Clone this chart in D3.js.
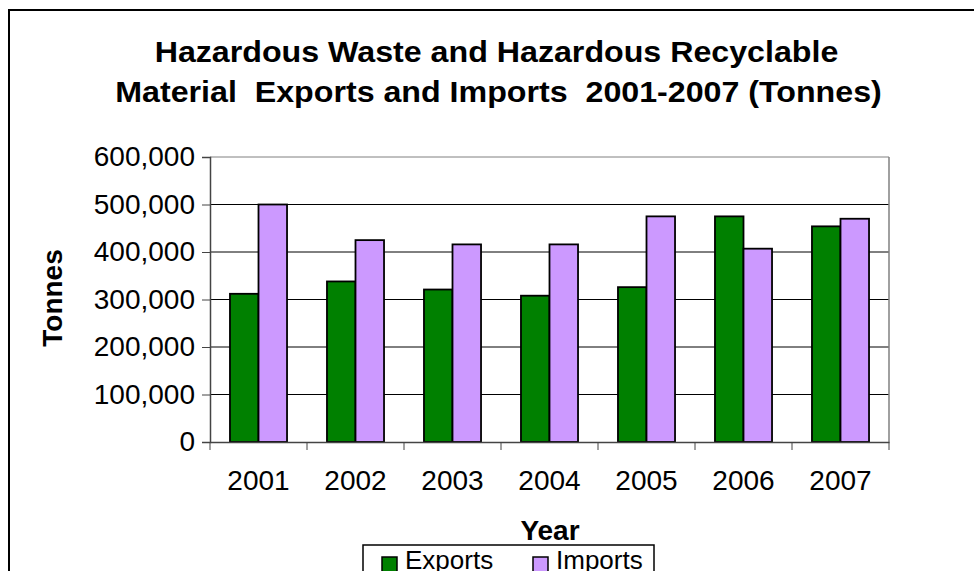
<!DOCTYPE html>
<html>
<head>
<meta charset="utf-8">
<script src="https://cdn.jsdelivr.net/npm/d3@7"></script>
<style>
  body { margin: 0; background: #fff; }
  text { font-family: "Liberation Sans", Arial, sans-serif; }
</style>
</head>
<body>
<div id="chart"></div>
<script>
// chart data
var years = ["2001", "2002", "2003", "2004", "2005", "2006", "2007"];
var seriesNames = ["Exports", "Imports"];
var exportsData = [312000, 338000, 321000, 308000, 326000, 475000, 454000];
var importsData = [500000, 425000, 416000, 416000, 475000, 407000, 470000];
var yTicks = [0, 100000, 200000, 300000, 400000, 500000, 600000];
var titleLines = ["Hazardous Waste and Hazardous Recyclable",
                  "Material  Exports and Imports  2001-2007 (Tonnes)"];
var colors = ["#008000", "#CC99FF"];

var width = 974, height = 571;
var plot = {left: 210, top: 157, right: 889, bottom: 442};

var svg = d3.select("#chart").append("svg")
    .attr("width", width)
    .attr("height", height);

// outer frame
svg.append("rect")
    .attr("x", 9).attr("y", 10)
    .attr("width", 980).attr("height", 600)
    .attr("fill", "#fff")
    .attr("stroke", "#000")
    .attr("stroke-width", 2);

var x0 = d3.scaleBand()
    .domain(years)
    .range([plot.left, plot.right])
    .padding(0);

var x1 = d3.scaleBand()
    .domain(seriesNames)
    .range([0, x0.bandwidth()])
    .paddingInner(0)
    .paddingOuter(0.7);

var y = d3.scaleLinear()
    .domain([0, 600000])
    .range([plot.bottom, plot.top]);

// gridlines
svg.selectAll("line.grid")
    .data(yTicks.filter(function(d){ return d > 0; }))
    .enter()
    .append("line")
    .attr("class", "grid")
    .attr("x1", plot.left)
    .attr("x2", plot.right)
    .attr("y1", function(d){ return y(d); })
    .attr("y2", function(d){ return y(d); })
    .attr("stroke", function(d){ return d === 600000 ? "#808080" : "#000"; })
    .attr("stroke-width", 1);

// right border of plot area
svg.append("line")
    .attr("x1", plot.right).attr("x2", plot.right)
    .attr("y1", plot.top).attr("y2", plot.bottom)
    .attr("stroke", "#808080")
    .attr("stroke-width", 1.5);

// bars
var rows = years.map(function(yr, i){
    return {year: yr, values: [
        {name: "Exports", value: exportsData[i]},
        {name: "Imports", value: importsData[i]}
    ]};
});

var groups = svg.selectAll("g.year")
    .data(rows)
    .enter()
    .append("g")
    .attr("class", "year")
    .attr("transform", function(d){ return "translate(" + x0(d.year) + ",0)"; });

groups.selectAll("rect")
    .data(function(d){ return d.values; })
    .enter()
    .append("rect")
    .attr("x", function(d){ return x1(d.name); })
    .attr("y", function(d){ return y(d.value); })
    .attr("width", x1.bandwidth())
    .attr("height", function(d){ return y(0) - y(d.value); })
    .style("fill", function(d, i){ return colors[i]; })
    .attr("stroke", "#000")
    .attr("stroke-width", 1.8);

// y axis
var yAxis = svg.append("g")
    .attr("transform", "translate(" + plot.left + ",0)")
    .call(d3.axisLeft(y).tickValues(yTicks).tickSize(8).tickPadding(7)
        .tickFormat(d3.format(",")));
yAxis.selectAll("text")
    .attr("font-size", "28px")
    .attr("fill", "#000")
    .style("font-family", "'Liberation Sans', Arial, sans-serif");
yAxis.selectAll("line").attr("stroke", "#444");
yAxis.select(".domain").attr("stroke", "#444").attr("stroke-width", 1.5);

// x axis
var xAxis = svg.append("g")
    .attr("transform", "translate(0," + plot.bottom + ")")
    .call(d3.axisBottom(x0).tickSize(0).tickPadding(28).tickSizeOuter(0));
xAxis.selectAll("text")
    .attr("font-size", "28px")
    .attr("fill", "#000")
    .style("font-family", "'Liberation Sans', Arial, sans-serif");
xAxis.select(".domain").attr("stroke", "#444").attr("stroke-width", 1.5);

var boundaries = years.map(function(d){ return x0(d); }).concat([plot.right]);
svg.selectAll("line.xtick")
    .data(boundaries)
    .enter()
    .append("line")
    .attr("class", "xtick")
    .attr("x1", function(d){ return d; })
    .attr("x2", function(d){ return d; })
    .attr("y1", plot.bottom)
    .attr("y2", plot.bottom + 8)
    .attr("stroke", "#444");

// title (slightly widened like the original)
var titlePos = [{cx: 496.5, y: 62}, {cx: 498.5, y: 102}];
svg.selectAll("text.title")
    .data(titleLines)
    .enter()
    .append("text")
    .attr("class", "title")
    .attr("transform", function(d, i){
        return "translate(" + titlePos[i].cx + "," + titlePos[i].y + ") scale(1.11,1)";
    })
    .attr("text-anchor", "middle")
    .attr("font-size", "29px")
    .attr("font-weight", "bold")
    .attr("fill", "#000")
    .style("white-space", "pre")
    .text(function(d){ return d; });

// axis titles
svg.append("text")
    .attr("x", 550).attr("y", 540)
    .attr("text-anchor", "middle")
    .attr("font-size", "28px")
    .attr("font-weight", "bold")
    .text("Year");

svg.append("text")
    .attr("transform", "translate(62,298) rotate(-90)")
    .attr("text-anchor", "middle")
    .attr("font-size", "28px")
    .attr("font-weight", "bold")
    .text("Tonnes");

// legend
svg.append("rect")
    .attr("x", 363).attr("y", 545)
    .attr("width", 291).attr("height", 60)
    .attr("fill", "#fff")
    .attr("stroke", "#000")
    .attr("stroke-width", 1.5);

var legendX = [382, 533];
var legend = svg.selectAll("g.legend")
    .data(seriesNames)
    .enter()
    .append("g")
    .attr("class", "legend")
    .attr("transform", function(d, i){ return "translate(" + legendX[i] + ",557)"; });

legend.append("rect")
    .attr("width", 15).attr("height", 15)
    .style("fill", function(d, i){ return colors[i]; })
    .attr("stroke", "#000")
    .attr("stroke-width", 1.5);

legend.append("text")
    .attr("x", 23).attr("y", 12)
    .attr("font-size", "26px")
    .text(function(d){ return d; });
</script>
</body>
</html>
